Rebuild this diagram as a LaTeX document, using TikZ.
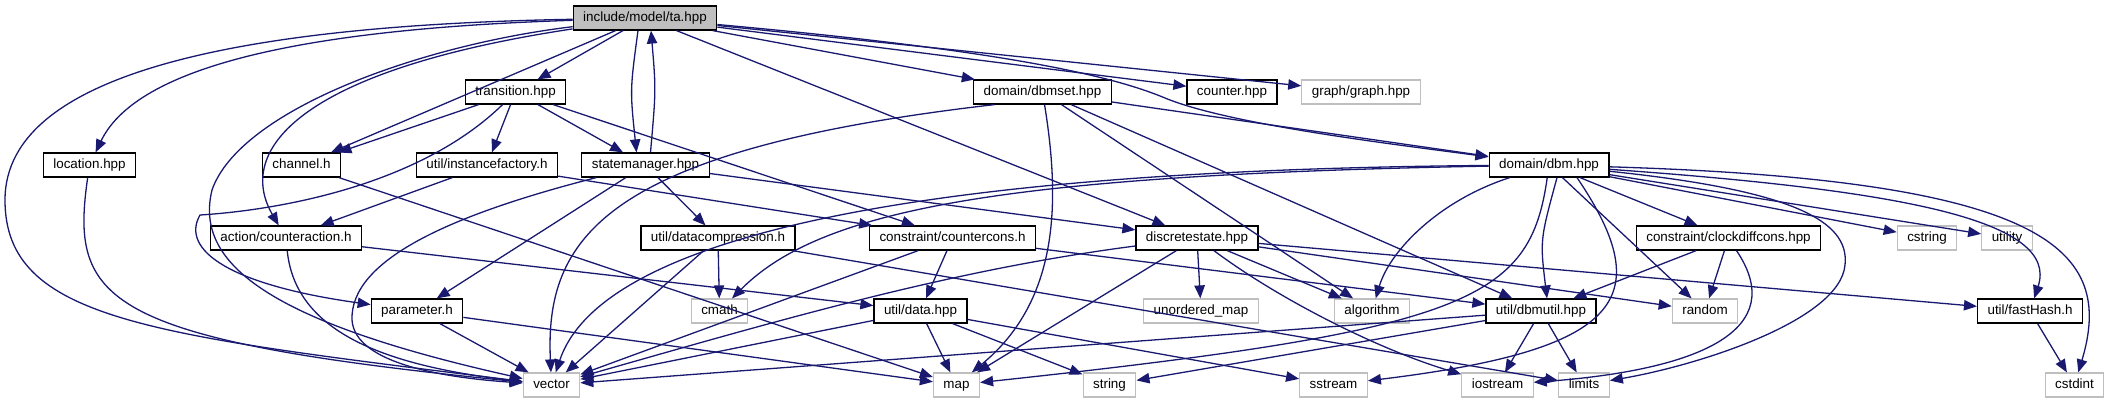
\documentclass[tikz,border=0pt]{standalone}
\usepackage{fontspec}
\setmainfont{Liberation Sans}
\usepackage{tikz}
\usetikzlibrary{arrows.meta}
\definecolor{linkblue}{HTML}{191970}
\definecolor{sysgray}{HTML}{BFBFBF}
\definecolor{rootgray}{HTML}{BFBFBF}
\tikzset{
  >={Triangle[length=6.5pt,width=5.2pt]},
  incl/.style={->,line width=0.65pt,draw=linkblue},
  file/.style={draw=black,line width=0.6pt,fill=white,inner xsep=5pt,inner ysep=0pt,
    minimum height=12pt,text height=4.9pt,text depth=1.4pt,font=\fontsize{6.7}{8}\selectfont},
  rootfile/.style={file,fill=rootgray},
  sysfile/.style={file,draw=sysgray}
}
\begin{document}
\begin{tikzpicture}[x=0.5pt,y=-0.5pt]
  \useasboundingbox (0,0) rectangle (2110,403);
  \node[rootfile] (ta) at (645,18) {include/model/ta.hpp};
  \node[file] (transition) at (515.5,92) {transition.hpp};
  \node[file] (dbmset) at (1042.5,92) {domain/dbmset.hpp};
  \node[file] (counter) at (1232,92) {counter.hpp};
  \node[sysfile] (graph) at (1361,92) {graph/graph.hpp};
  \node[file] (location) at (89.5,165) {location.hpp};
  \node[file] (channel) at (301.5,165) {channel.h};
  \node[file] (instfactory) at (487,165) {util/instancefactory.h};
  \node[file] (statemgr) at (645.5,165) {statemanager.hpp};
  \node[file] (dbm) at (1549,165) {domain/dbm.hpp};
  \node[file] (cntaction) at (286,238) {action/counteraction.h};
  \node[file] (datacomp) at (718,238) {util/datacompression.h};
  \node[file] (cntcons) at (952.5,238) {constraint/countercons.h};
  \node[file] (discrete) at (1197,238) {discretestate.hpp};
  \node[file] (clockdiff) at (1728.5,238) {constraint/clockdiffcons.hpp};
  \node[sysfile] (cstring) at (1927,238) {cstring};
  \node[sysfile] (utility) at (2007,238) {utility};
  \node[file] (parameter) at (417,311) {parameter.h};
  \node[sysfile] (cmath) at (719.5,311) {cmath};
  \node[file] (data) at (920.5,311) {util/data.hpp};
  \node[sysfile] (umap) at (1201,311) {unordered\_map};
  \node[sysfile] (algorithm) at (1372,311) {algorithm};
  \node[file] (dbmutil) at (1541,311) {util/dbmutil.hpp};
  \node[sysfile] (random) at (1705,311) {random};
  \node[file] (fasthash) at (2030,311) {util/fastHash.h};
  \node[sysfile] (vector) at (551.5,385) {vector};
  \node[sysfile] (map) at (956.5,385) {map};
  \node[sysfile] (string) at (1109.5,385) {string};
  \node[sysfile] (sstream) at (1333.5,385) {sstream};
  \node[sysfile] (iostream) at (1497.5,385) {iostream};
  \node[sysfile] (limits) at (1584,385) {limits};
  \node[sysfile] (cstdint) at (2074.5,385) {cstdint};
  \foreach \a/\b in {ta/transition,ta/channel,ta/discrete,ta/dbmset,ta/counter,ta/graph,
    transition/channel,transition/instfactory,transition/statemgr,transition/cntcons,
    instfactory/cntaction,instfactory/cntcons,statemgr/datacomp,statemgr/parameter,
    statemgr/discrete,channel/map,dbmset/algorithm,dbmset/dbmutil,dbmset/dbm,
    dbm/clockdiff,dbm/cstring,dbm/utility,dbm/random,cntaction/data,
    datacomp/cmath,datacomp/vector,datacomp/limits,cntcons/data,cntcons/vector,
    cntcons/dbmutil,discrete/umap,discrete/algorithm,discrete/map,discrete/fasthash,
    discrete/random,clockdiff/dbmutil,clockdiff/random,parameter/vector,parameter/map,
    data/vector,data/map,data/string,data/sstream,dbmutil/iostream,dbmutil/limits,
    dbmutil/vector,dbmutil/string,fasthash/cstdint}
    \draw[incl] (\a) -- (\b);
  \draw[incl] (ta) .. controls (250,25) and (5,70) .. (5,200) .. controls (5,320) and (150,335) .. (vector);
  \draw[incl] (ta) .. controls (330,28) and (140,60) .. (location);
  \draw[incl] (location) .. controls (70,300) and (100,340) .. (vector);
  \draw[incl] (ta) .. controls (300,70) and (235,150) .. (cntaction);
  \draw[incl] (ta) .. controls (420,45) and (240,110) .. (212,190) .. controls (195,260) and (260,320) .. (vector);
  \draw[incl] (transition) .. controls (420,185) and (280,210) .. (200,215) .. controls (180,250) and (230,285) .. (parameter);
  \draw[incl] ([xshift=-3.5pt]ta.south) .. controls (630,90) .. ([xshift=-4.5pt]statemgr.north);
  \draw[incl] ([xshift=2.5pt]statemgr.north) .. controls (656,90) .. ([xshift=3pt]ta.south);
  \draw[incl] (statemgr) .. controls (450,215) and (350,260) .. (352,320) .. controls (355,365) and (450,378) .. (vector);
  \draw[incl] (ta) .. controls (1000,50) and (1110,75) .. (1165,98) .. controls (1230,125) and (1400,145) .. (dbm);
  \draw[incl] ([xshift=-24pt]dbmset.south) .. controls (600,150) and (545,240) .. (vector);
  \draw[incl] (dbm) .. controls (900,170) and (600,240) .. (vector);
  \draw[incl] (dbm) .. controls (1000,175) and (820,210) .. (cmath);
  \draw[incl] (dbmset) .. controls (1060,200) and (1060,300) .. (map);
  \draw[incl] (dbm) .. controls (1900,190) and (2060,220) .. (fasthash);
  \draw[incl] (dbm) .. controls (2050,180) and (2115,250) .. (cstdint);
  \draw[incl] ([xshift=4pt]dbm.south) .. controls (1540,240) .. ([xshift=3pt]dbmutil.north);
  \draw[incl] (dbm) .. controls (1440,200) and (1390,250) .. (algorithm);
  \draw[incl] ([xshift=14pt]dbm.south) .. controls (1660,300) and (1620,350) .. (sstream);
  \draw[incl] (dbm) .. controls (1790,190) and (1850,220) .. (1845,265) .. controls (1840,320) and (1700,365) .. (limits);
  \draw[incl] (dbm) .. controls (1530,300) and (1470,330) .. (map);
  \draw[incl] ([xshift=4pt]clockdiff.south) .. controls (1790,330) and (1700,370) .. (iostream);
  \draw[incl] (discrete) .. controls (950,270) and (780,320) .. (vector);
  \draw[incl] (discrete) .. controls (1280,300) and (1380,350) .. (iostream);
  \draw[incl] (cntaction) .. controls (295,330) and (380,365) .. (vector);
\end{tikzpicture}
\end{document}
